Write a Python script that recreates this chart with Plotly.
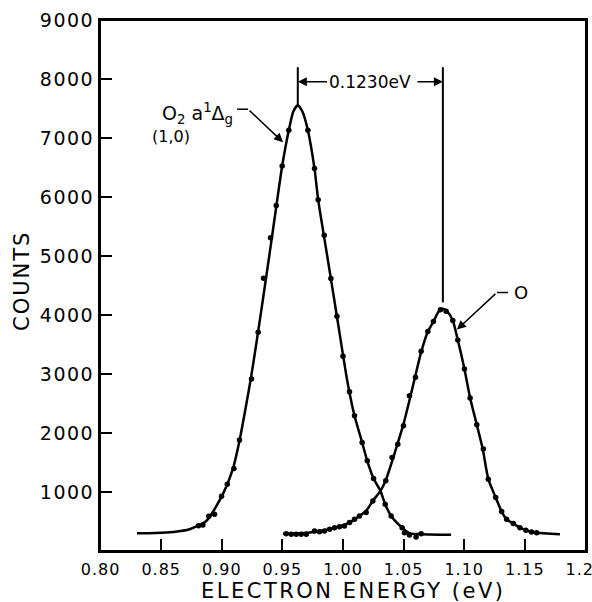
import plotly.graph_objects as go

# ---- data ----
# fitted curve, O2 a1Δg (1,0) peak
fit1_e = [0.830, 0.845, 0.860, 0.8734, 0.8872, 0.9009, 0.9091, 0.9146, 0.9193, 0.9245,
          0.9300, 0.9344, 0.9402, 0.9449, 0.9498, 0.9553, 0.9590, 0.9627, 0.9665, 0.9710,
          0.9765, 0.9795, 0.9870, 0.9948, 1.0035, 1.0095, 1.0158, 1.0200, 1.0252, 1.0309,
          1.0348, 1.0397, 1.0488, 1.0550, 1.0650, 1.0892]
fit1_c = [300, 305, 322, 368, 509, 963, 1387, 1868, 2380, 2990,
          3720, 4330, 5150, 5830, 6526, 7132, 7450, 7556, 7450, 7132,
          6480, 5955, 5000, 4000, 2887, 2292, 1839, 1528, 1228, 1019,
          793, 594, 396, 300, 285, 275]
# fitted curve, O peak
fit2_e = [0.9504, 0.965, 0.980, 0.9930, 1.0054, 1.0136, 1.0191, 1.0246, 1.0309, 1.0353,
          1.0405, 1.0452, 1.0499, 1.0548, 1.0598, 1.0645, 1.0700, 1.0746, 1.0790, 1.0824,
          1.0860, 1.0906, 1.0947, 1.1002, 1.1049, 1.1104, 1.1153, 1.1199, 1.1260, 1.1309,
          1.1350, 1.1405, 1.1460, 1.1509, 1.1556, 1.1600, 1.1790]
fit2_c = [294, 300, 335, 396, 481, 594, 680, 849, 1019, 1200,
          1520, 1830, 2150, 2550, 2980, 3370, 3719, 3888, 4060, 4104,
          4060, 3905, 3578, 3085, 2593, 2139, 1727, 1217, 905, 668,
          538, 464, 396, 351, 323, 311, 283]

# measured points
pts_e = [0.8808, 0.8844, 0.8893, 0.8940, 0.8998, 0.9045, 0.9100, 0.9146, 0.9245, 0.9300,
         0.9344, 0.9402, 0.9449, 0.9498, 0.9553, 0.9710, 0.9765, 0.9795, 0.9845, 0.9900,
         0.9950, 1.0000, 1.0054, 1.0095, 1.0158, 1.0200, 1.0252, 1.0348, 1.0397, 1.0488,
         1.0507, 1.0548, 1.0603, 1.0645,
         0.9531, 0.9573, 0.9614, 0.9655, 0.9697, 0.9765, 0.9806, 0.9847, 0.9889, 0.9930,
         0.9971, 1.0012, 1.0054, 1.0095, 1.0136, 1.0191, 1.0246, 1.0353, 1.0405, 1.0452,
         1.0499, 1.0548, 1.0598, 1.0645, 1.0700, 1.0746, 1.0804, 1.0851, 1.0906, 1.0947,
         1.1002, 1.1049, 1.1104, 1.1158, 1.1199, 1.1260, 1.1309, 1.1350, 1.1405, 1.1460,
         1.1509, 1.1556, 1.1598]
pts_c = [430, 441, 589, 623, 928, 1132, 1398, 1880, 2915, 3707,
         4624, 5309, 5858, 6526, 7132, 7132, 6481, 5955, 5350, 4620,
         3980, 3300, 2700, 2292, 1839, 1528, 1228, 793, 594, 396,
         311, 272, 238, 294,
         294, 283, 283, 283, 283, 340, 328, 340, 368, 396,
         413, 425, 481, 538, 594, 651, 849, 1189, 1585, 1811,
         2123, 2632, 2943, 3385, 3719, 3888, 4087, 4064, 3905, 3578,
         3085, 2593, 2139, 1727, 1217, 905, 668, 538, 464, 396,
         351, 323, 311]

x_ticks = [0.80, 0.85, 0.90, 0.95, 1.00, 1.05, 1.10, 1.15, 1.20]
x_tick_text = ["0.80", "0.85", "0.90", "0.95", "1.00", "1.05", "1.10", "1.15", "1.20"]
y_ticks = [1000, 2000, 3000, 4000, 5000, 6000, 7000, 8000, 9000]
y_tick_text = ["1000", "2000", "3000", "4000", "5000", "6000", "7000", "8000", "9000"]

FONT = "DejaVu Sans"
BLACK = "black"
W, H = 592, 602
ML, MR, MT, MB = 100, 6, 20, 51
PW, PH = W - ML - MR, H - MT - MB


def px_to_paper(px, py):
    return (px - ML) / PW, (H - MB - py) / PH


def spaced(s, sp):
    return f'<span style="letter-spacing:{sp}px">{s}</span>'


fig = go.Figure()
line_style = dict(color=BLACK, width=2.5, shape="spline", smoothing=0.6)
fig.add_trace(go.Scatter(x=fit1_e, y=fit1_c, mode="lines", line=line_style, hoverinfo="skip"))
fig.add_trace(go.Scatter(x=fit2_e, y=fit2_c, mode="lines", line=line_style, hoverinfo="skip"))
fig.add_trace(go.Scatter(x=pts_e, y=pts_c, mode="markers", marker=dict(color=BLACK, size=5.5)))

# peak positions from the curves
i1 = fit1_c.index(max(fit1_c))
i2 = fit2_c.index(max(fit2_c))
p1x, p1y = fit1_e[i1], fit1_c[i1]
p2x, p2y = fit2_e[i2], fit2_c[i2]
top = 8200
sep_y = 7952

shapes = [
    dict(type="rect", xref="paper", yref="paper", x0=0, x1=1, y0=0, y1=1,
         line=dict(color=BLACK, width=2), layer="above"),
    dict(type="line", x0=p1x, x1=p1x, y0=p1y, y1=top, line=dict(color=BLACK, width=2)),
    dict(type="line", x0=p2x, x1=p2x, y0=p2y + 110, y1=top, line=dict(color=BLACK, width=2)),
    dict(type="line", x0=0.9126, x1=0.9217, y0=7488, y1=7488, line=dict(color=BLACK, width=1.5)),
    dict(type="line", x0=1.1361, x1=1.1270, y0=4381, y1=4381, line=dict(color=BLACK, width=1.5)),
]

arrow = dict(showarrow=True, arrowhead=2, arrowsize=1.2, arrowwidth=1.5, arrowcolor=BLACK,
             axref="x", ayref="y", xref="x", yref="y")
xt_x, xt_y = px_to_paper(353, 591)
yt_x, yt_y = px_to_paper(22, 281)
ann = [
    # separation label with arrow to the left line
    dict(x=p1x, y=sep_y, ax=1.0219, ay=sep_y, text="0.1230eV", standoff=0,
         font=dict(family=FONT, size=17, color=BLACK), **arrow),
    # arrow to the right line
    dict(x=p2x, y=sep_y, ax=1.0602, ay=sep_y, text="", **arrow),
    # O2 label
    dict(x=0.9505, y=6928, ax=0.9217, ay=7488, text="", **arrow),
    dict(x=0.9110, y=7420, xanchor="right", yanchor="middle",
         text="O<sub>2</sub> a<sup>1</sup>Δ<sub>g</sub>", showarrow=False,
         font=dict(family=FONT, size=19, color=BLACK)),
    dict(x=0.8408, y=7030, xanchor="left", yanchor="middle", text="(1,0)", showarrow=False,
         font=dict(family=FONT, size=16, color=BLACK)),
    # O label
    dict(x=1.0940, y=3753, ax=1.1270, ay=4381, text="", **arrow),
    dict(x=1.1392, y=4381, xanchor="left", yanchor="middle", text="O", showarrow=False,
         font=dict(family=FONT, size=18, color=BLACK)),
    # axis titles
    dict(x=xt_x, y=xt_y, xref="paper", yref="paper", xanchor="center", yanchor="middle",
         text=spaced("ELECTRON ENERGY (eV)", 2.5), showarrow=False,
         font=dict(family=FONT, size=21, color=BLACK)),
    dict(x=yt_x, y=yt_y, xref="paper", yref="paper", xanchor="center", yanchor="middle",
         text=spaced("COUNTS", 2), textangle=-90, showarrow=False,
         font=dict(family=FONT, size=21, color=BLACK)),
]

fig.update_layout(
    width=W, height=H,
    margin=dict(l=ML, r=MR, t=MT, b=MB, autoexpand=False),
    paper_bgcolor="white", plot_bgcolor="white",
    showlegend=False,
    shapes=shapes, annotations=ann,
    font=dict(family=FONT, color=BLACK),
)
fig.update_xaxes(
    range=[0.7995, 1.2005], tickvals=x_ticks, ticktext=[spaced(t, 1) for t in x_tick_text],
    automargin=False, ticklabeloverflow="allow",
    ticks="inside", ticklen=12, tickwidth=2, tickcolor=BLACK, ticklabelstandoff=3,
    showline=True, linecolor=BLACK, linewidth=2, mirror=True,
    showgrid=False, zeroline=False,
    tickfont=dict(family=FONT, size=16, color=BLACK),
)
fig.update_yaxes(
    range=[0, 9000], tickvals=y_ticks, ticktext=[spaced(t, 1.5) for t in y_tick_text],
    automargin=False,
    ticks="inside", ticklen=12, tickwidth=2, tickcolor=BLACK, ticklabelstandoff=0,
    showline=True, linecolor=BLACK, linewidth=2, mirror=True,
    showgrid=False, zeroline=False,
    tickfont=dict(family=FONT, size=19, color=BLACK),
)

fig.write_html("out.html", config={"displayModeBar": False},
               post_script="document.body.style.margin='0';document.body.style.overflow='hidden';")
